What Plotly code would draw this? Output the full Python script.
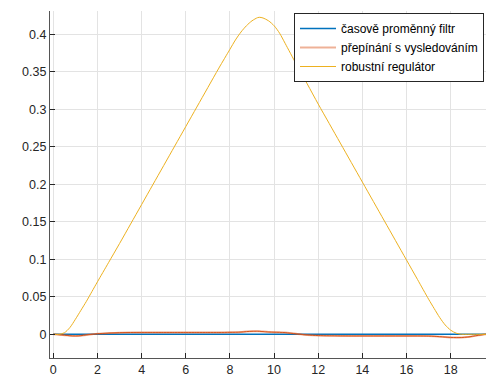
import plotly.graph_objects as go

# time axis samples
t = [0, 0.25, 0.5, 0.75, 1.0, 1.25, 1.5, 1.75, 2.0, 2.5, 3.0, 3.5, 4.0, 4.5, 5.0,
     5.5, 6.0, 6.5, 7.0, 7.5, 8.0, 8.25, 8.5, 8.75, 9.0, 9.25, 9.33, 9.5, 9.75,
     10.0, 10.25, 10.5, 11.0, 11.5, 12.0, 12.5, 13.0, 13.5, 14.0, 14.5, 15.0,
     15.5, 16.0, 16.5, 17.0, 17.25, 17.5, 17.75, 18.0, 18.25, 18.5, 18.75, 19.0,
     19.25, 19.6]

# časově proměnný filtr
filtr = [0.0] * len(t)

# přepínání s vysledováním
prepinani = [0, -0.0005, -0.0012, -0.0019, -0.0022, -0.0018, -0.0008, 0.0, 0.0008,
             0.0016, 0.0022, 0.0024, 0.0025, 0.0025, 0.0025, 0.0025, 0.0025, 0.0025,
             0.0025, 0.0025, 0.0026, 0.0027, 0.0030, 0.0036, 0.0040, 0.0041, 0.0040,
             0.0036, 0.0031, 0.0028, 0.0026, 0.0023, 0.0006, -0.0009, -0.0017, -0.0020,
             -0.0021, -0.0022, -0.0022, -0.0022, -0.0022, -0.0022, -0.0022, -0.0022,
             -0.0024, -0.0027, -0.0031, -0.0037, -0.0041, -0.0044, -0.0043, -0.0037,
             -0.0026, -0.0014, 0.0]

# robustní regulátor
robustni = [0, 0.0, 0.002, 0.009, 0.020, 0.032, 0.044, 0.057, 0.070, 0.0955, 0.121,
            0.147, 0.173, 0.199, 0.225, 0.251, 0.277, 0.303, 0.329, 0.355, 0.380,
            0.3925, 0.403, 0.4115, 0.418, 0.4222, 0.4227, 0.4218, 0.418, 0.4115,
            0.4015, 0.388, 0.3605, 0.334, 0.307, 0.281, 0.255, 0.229, 0.203, 0.177,
            0.151, 0.125, 0.099, 0.073, 0.0468, 0.0345, 0.0225, 0.0125, 0.0055,
            0.0015, 0.0, 0.0, 0.0, 0.0, 0.0]

x_ticks = [0, 2, 4, 6, 8, 10, 12, 14, 16, 18]
y_ticks = [0, 0.05, 0.1, 0.15, 0.2, 0.25, 0.3, 0.35, 0.4]

BLUE = "#0072BD"
ORANGE = "#D95319"
YELLOW = "#EDB120"
FONT = "Liberation Sans, Arial, sans-serif"

fig = go.Figure()
fig.add_trace(go.Scatter(x=t, y=filtr, mode="lines", name="časově proměnný filtr",
                         line=dict(color=BLUE, width=1.5)))
fig.add_trace(go.Scatter(x=t, y=prepinani, mode="lines", name="přepínání s vysledováním",
                         line=dict(color="rgba(217,83,25,0.45)", width=2, shape="spline",
                                   smoothing=0.8)))
fig.add_trace(go.Scatter(x=t, y=prepinani, mode="lines", showlegend=False,
                         line=dict(color=ORANGE, width=1, shape="spline", smoothing=0.8)))
fig.add_trace(go.Scatter(x=t, y=robustni, mode="lines", name="robustní regulátor",
                         line=dict(color=YELLOW, width=1, shape="spline", smoothing=0.8)))

axis_common = dict(
    showgrid=True, gridcolor="#e3e3e3", gridwidth=1,
    zeroline=False, showline=True, linecolor="#555555", linewidth=1.3,
    ticks="inside", ticklen=5, tickcolor="#262626", tickwidth=1,
    tickfont=dict(family=FONT, size=12.5, color="#262626"),
    mirror=False,
)

fig.update_layout(
    width=486, height=381,
    margin=dict(l=50, r=0, t=11, b=23, autoexpand=False),
    paper_bgcolor="white", plot_bgcolor="white",
    xaxis=dict(range=[-0.15, 19.6], tickvals=x_ticks, **axis_common),
    yaxis=dict(range=[-0.0316, 0.4311], tickvals=y_ticks, **axis_common),
    legend=dict(
        x=(294 - 50) / 436, y=1 - (13 - 11) / 347, xanchor="left", yanchor="top",
        bgcolor="white", bordercolor="#262626", borderwidth=1,
        font=dict(family=FONT, size=12, color="#000000"),
        itemwidth=36, tracegroupgap=0,
    ),
    showlegend=True,
)

fig.write_html("out.html")
